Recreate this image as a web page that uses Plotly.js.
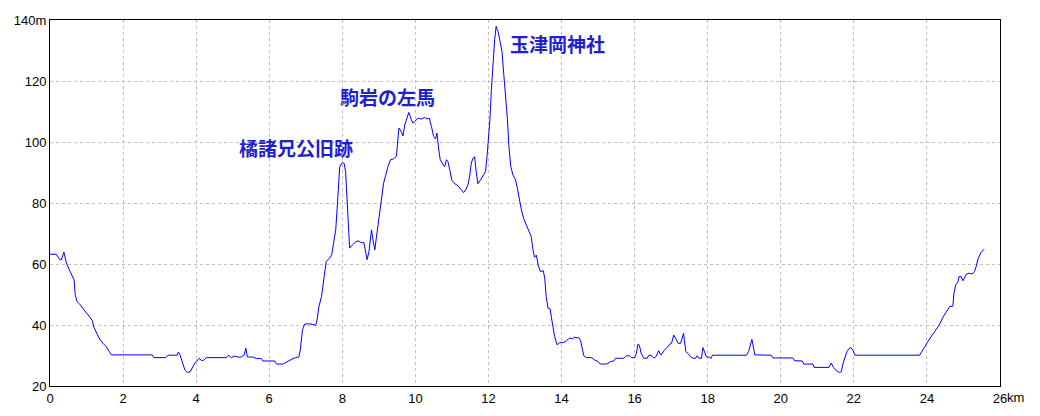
<!DOCTYPE html>
<html>
<head>
<meta charset="utf-8">
<script src="https://cdn.plot.ly/plotly-3.0.1.min.js"></script>
<style>
html,body{margin:0;padding:0;background:#fff;}
#chart{width:1040px;height:416px;}
</style>
</head>
<body>
<div id="chart"></div>
<script>
// Distance along the route (km)
const distanceKm = [
0.00,0.17,0.27,0.31,0.38,0.45,0.52,0.58,0.66,0.69,0.74,0.81,0.90,1.00,1.09,1.16,1.20,1.27,1.36,1.45,1.54,1.62,1.68,
2.80,2.84,3.17,3.23,3.48,3.51,3.55,3.62,3.69,3.76,3.84,3.91,3.97,4.02,4.08,4.14,4.20,4.28,4.83,4.88,4.97,5.04,5.12,
5.19,5.24,5.31,5.36,5.40,5.55,5.65,5.78,5.83,6.15,6.20,6.38,6.47,6.54,6.65,6.81,6.85,6.91,6.97,7.11,7.27,7.31,7.36,
7.43,7.47,7.52,7.56,7.65,7.71,7.76,7.82,7.85,7.88,7.93,8.00,8.05,8.09,8.13,8.17,8.20,8.28,8.36,8.43,8.52,8.59,8.62,
8.68,8.73,8.75,8.80,8.84,8.89,8.93,8.98,9.02,9.07,9.13,9.19,9.25,9.32,9.39,9.48,9.52,9.55,9.61,9.66,9.71,9.75,9.82,
9.89,9.93,9.98,10.07,10.16,10.25,10.30,10.38,10.44,10.50,10.55,10.59,10.64,10.68,10.76,10.80,10.85,10.89,10.94,
11.00,11.08,11.17,11.26,11.32,11.38,11.44,11.49,11.53,11.58,11.62,11.67,11.71,11.78,11.85,11.92,11.96,11.99,12.01,
12.04,12.08,12.12,12.17,12.21,12.26,12.31,12.37,12.42,12.47,12.52,12.56,12.61,12.67,12.74,12.79,12.84,12.90,12.96,
13.04,13.11,13.17,13.22,13.26,13.31,13.36,13.42,13.50,13.54,13.58,13.63,13.69,13.72,13.77,13.81,13.88,13.95,14.04,
14.13,14.22,14.30,14.36,14.48,14.52,14.57,14.61,14.68,14.82,14.91,15.00,15.06,15.24,15.34,15.43,15.48,15.70,15.77,
15.86,15.91,16.00,16.05,16.09,16.13,16.18,16.25,16.34,16.40,16.48,16.54,16.59,16.66,16.70,16.73,16.80,16.89,16.96,
17.01,17.07,17.12,17.19,17.26,17.31,17.34,17.36,17.40,17.47,17.53,17.60,17.67,17.71,17.76,17.83,17.87,17.92,17.96,
18.05,18.09,18.13,19.06,19.12,19.18,19.21,19.24,19.29,19.74,19.79,20.33,20.38,20.59,20.63,20.88,20.91,21.32,21.38,
21.45,21.52,21.61,21.66,21.70,21.75,21.81,21.86,21.92,21.97,22.03,23.80,23.94,24.07,24.21,24.35,24.44,24.53,24.62,
24.71,24.74,24.79,24.85,24.88,24.93,24.99,25.08,25.16,25.24,25.30,25.35,25.39,25.44,25.48,25.57
];
// Elevation (m)
const elevationM = [
63.2,63.2,61.4,61.4,63.9,60.3,58.3,57.0,54.8,49.9,47.7,46.9,45.3,43.9,42.6,41.4,39.3,37.3,35.3,34.0,32.9,31.3,30.2,
30.2,29.3,29.3,30.1,30.1,31.1,30.5,27.8,25.3,24.4,24.7,26.3,27.7,28.2,29.1,28.4,28.4,29.3,29.3,30.1,29.3,29.8,29.7,
29.4,29.6,30.1,32.4,29.5,29.5,29.0,29.0,28.2,28.2,27.2,27.2,27.8,28.5,29.0,29.5,31.8,38.4,40.3,40.4,39.9,41.7,46.0,
49.3,52.6,57.0,60.8,61.9,63.0,66.8,71.2,76.7,82.1,92.0,93.3,93.0,90.3,81.0,72.3,65.2,66.3,67.2,67.6,67.0,67.0,64.6,
61.4,64.1,65.7,71.2,67.9,64.6,68.5,73.4,76.7,81.0,86.5,89.2,92.0,94.2,94.4,95.3,99.6,104.6,103.5,102.0,105.6,107.3,109.7,
107.3,106.2,106.7,107.8,107.5,108.1,107.6,107.8,105.1,101.8,101.0,102.9,97.4,94.2,92.5,91.9,94.2,93.6,90.9,
87.4,86.3,85.6,84.3,83.4,84.3,86.0,89.2,93.1,94.7,95.2,89.8,86.3,87.5,88.9,90.3,95.2,99.6,102.4,
107.3,117.1,125.9,133.5,137.9,136.3,133.5,129.7,122.1,114.9,107.3,98.5,92.0,89.2,87.6,84.9,81.0,77.8,75.0,
72.8,71.2,69.0,64.6,62.2,62.9,59.7,57.5,57.8,55.4,49.3,45.5,45.2,42.7,38.9,36.2,33.5,34.2,34.2,
34.8,35.7,35.5,36.0,35.7,34.9,31.8,29.9,29.3,29.3,28.5,28.0,27.2,27.2,28.0,28.2,29.1,29.1,29.9,
29.9,29.3,29.3,30.7,33.7,33.4,30.7,29.1,29.1,30.2,29.8,29.1,29.8,31.6,30.4,30.2,31.6,32.6,33.7,
34.0,36.7,35.7,34.0,34.0,35.7,37.3,35.2,31.3,30.6,29.6,29.1,29.1,29.9,29.1,29.1,32.6,31.0,29.6,
29.4,29.0,30.1,30.1,31.3,34.0,35.3,33.4,30.2,30.1,29.2,29.2,28.3,28.2,27.2,27.2,26.1,26.1,27.5,
26.0,25.0,24.4,24.7,27.2,29.1,31.3,32.1,32.6,31.8,30.1,30.1,32.9,35.4,37.8,40.3,42.6,44.4,46.0,
46.2,50.4,53.2,54.2,55.9,55.9,54.5,56.7,57.0,56.7,57.5,59.2,61.4,63.0,63.8,64.9
];
// Place labels
const labelText = ["橘諸兄公旧跡", "駒岩の左馬", "玉津岡神社"];
const labelKm = [6.72, 9.24, 13.88];
const labelElev = [98.1, 114.8, 132.2];
// Axis ticks
const xTickVals = [0,2,4,6,8,10,12,14,16,18,20,22,24,26];
const xTickText = ["0","2","4","6","8","10","12","14","16","18","20","22","24","26"];
const xUnit = "km";
const yTickVals = [20,40,60,80,100,120,140];
const yTickText = ["20","40","60","80","100","120","140m"];

const tickFont = {family: 'Liberation Sans, Arial, sans-serif', size: 13, color: '#000'};

const traces = [{
  x: distanceKm, y: elevationM, type: 'scatter', mode: 'lines',
  line: {color: '#0000ff', width: 1}, hoverinfo: 'skip'
}];

const annotations = labelText.map((t, i) => ({
  x: labelKm[i], y: labelElev[i], xref: 'x', yref: 'y', text: '<b>' + t + '</b>',
  showarrow: false, xanchor: 'center', yanchor: 'middle',
  font: {family: 'Noto Sans CJK JP', size: 19, color: '#1f1fd0'}
}));
// unit suffix after the last x tick label
annotations.push({
  x: xTickVals[xTickVals.length - 1], y: 0, xref: 'x', yref: 'paper', text: xUnit,
  showarrow: false, xanchor: 'left', yanchor: 'middle', xshift: 6, yshift: -11,
  borderpad: 0, font: tickFont
});

const axisCommon = {
  showline: true, linecolor: '#000', linewidth: 1, mirror: true,
  showgrid: true, gridcolor: '#c0c0c0', griddash: '3px,3px', gridwidth: 1,
  zeroline: false, ticks: '', tickfont: tickFont,
  tickmode: 'array', fixedrange: true
};

const layout = {
  width: 1040, height: 416,
  margin: {l: 50, r: 40, t: 20, b: 30, pad: 0},
  paper_bgcolor: '#fff', plot_bgcolor: '#fff',
  showlegend: false,
  xaxis: Object.assign({}, axisCommon, {range: [0, 26], tickvals: xTickVals, ticktext: xTickText}),
  yaxis: Object.assign({}, axisCommon, {range: [20, 140], tickvals: yTickVals, ticktext: yTickText}),
  annotations: annotations
};

Plotly.newPlot('chart', traces, layout, {staticPlot: true, displayModeBar: false});
</script>
</body>
</html>
